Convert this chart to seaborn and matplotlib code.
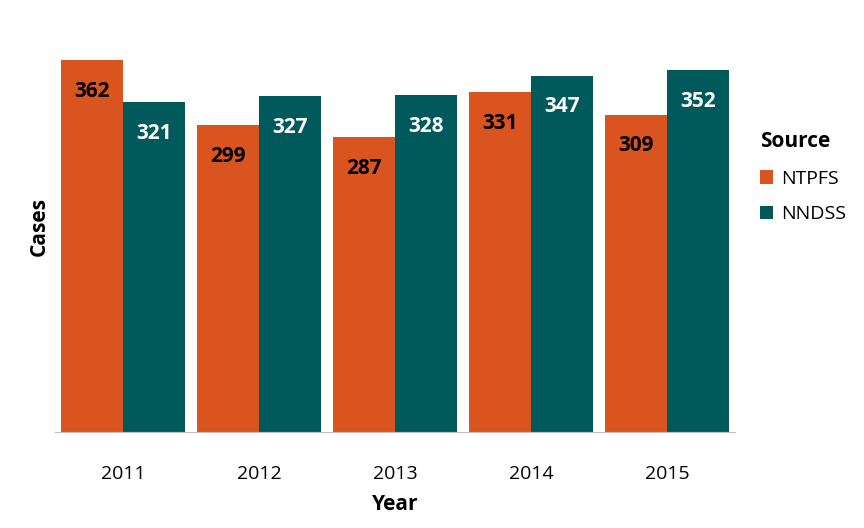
import matplotlib
matplotlib.use("Agg")
import matplotlib.pyplot as plt
import seaborn as sns
import pandas as pd

years = ["2011", "2012", "2013", "2014", "2015"]
ntpfs = [362, 299, 287, 331, 309]
nndss = [321, 327, 328, 347, 352]

df = pd.DataFrame({
    "Year": years * 2,
    "Cases": ntpfs + nndss,
    "Source": ["NTPFS"] * 5 + ["NNDSS"] * 5,
})

plt.rcParams["font.family"] = "Open Sans"
fig = plt.figure(figsize=(8.64, 5.28), dpi=100)
ax = fig.add_axes([0.064, 0.182, 0.787, 0.778])
sns.barplot(data=df, x="Year", y="Cases", hue="Source",
            palette={"NTPFS": "#D9541E", "NNDSS": "#005A5B"},
            width=0.91, saturation=1, ax=ax)
ax.set_ylim(0, 400)
ax.set_xlim(-0.5, 4.5)
ax.set_yticks([])
for s in ["top", "right", "left"]:
    ax.spines[s].set_visible(False)
ax.spines["bottom"].set_color("#BFBFBF")
ax.tick_params(axis="x", length=0, labelsize=14, pad=24)
ax.set_xlabel("Year", fontsize=15, fontweight="bold", labelpad=8)
ax.set_ylabel("Cases", fontsize=15, fontweight="bold")
colors = ["black", "white"]
for i, cont in enumerate(ax.containers):
    ax.bar_label(cont, label_type="edge", padding=-30, fontsize=15,
                 fontweight="bold", color=colors[i])
leg = ax.legend(title="Source", loc="center left", bbox_to_anchor=(1.01, 0.62),
                frameon=False, fontsize=14, title_fontsize=15,
                handlelength=0.7, handleheight=0.7, handletextpad=0.4,
                labelspacing=0.9)
leg.get_title().set_fontweight("bold")
leg._legend_box.align = "left"
fig.savefig("out.png", dpi=100)
